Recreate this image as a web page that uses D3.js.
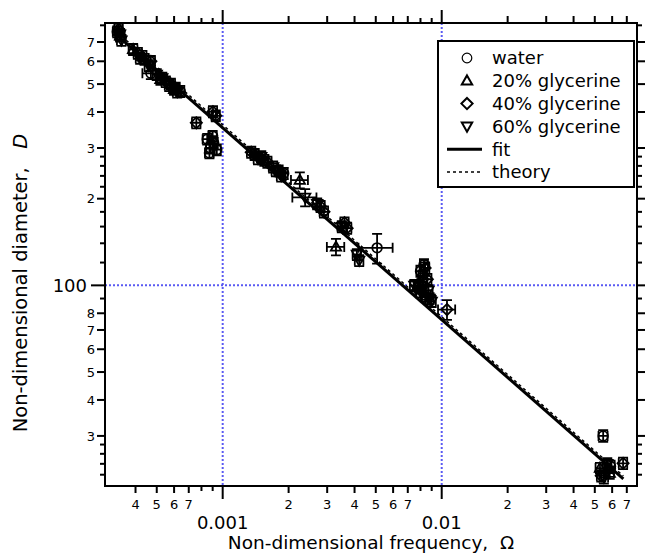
<!DOCTYPE html>
<html>
<head>
<meta charset="utf-8">
<script src="https://cdn.jsdelivr.net/npm/d3@7/dist/d3.min.js"></script>
<style>
  body { margin: 0; background: #fff; }
  svg { display: block; font-family: "DejaVu Sans", sans-serif; }
</style>
</head>
<body>
<div id="chart"></div>
<script>
// ---- data (Omega, D, half error bars) ----
let waterOmega = [0.00033, 0.00047, 0.00064, 0.00085, 0.00088, 0.00091, 0.00094, 0.00090, 0.00087,
  0.0019, 0.00507, 0.0080, 0.0083, 0.0546, 0.059];
let waterD = [760, 545, 472, 322, 300, 312, 296, 330, 288, 245, 135, 112, 118, 30.0, 23.5];
let waterErrOmega = [0.000015, 0.00004, 0.000028, 0.00004, 0.00004, 0.00004, 0.00004, 0.00004, 0.00004,
  0.00008, 0.0009, 0.00034, 0.00035, 0.0026, 0.0027];
let waterErrD = [33, 25, 21, 14, 13, 13, 13, 14, 12, 11, 16, 5, 5.2, 1.4, 1.1];

let g20Omega = [0.00034, 0.00039, 0.00043, 0.00044, 0.00052, 0.00058, 0.0006, 0.00155, 0.00225, 0.00329,
  0.0079, 0.0085, 0.0078, 0.0585, 0.0528];
let g20D = [735, 660, 625, 610, 520, 500, 480, 272, 232, 136, 98, 92, 100, 22.3, 23.2];
let g20ErrOmega = [0.000016, 0.000018, 0.000019, 0.00002, 0.000023, 0.000026, 0.000027, 0.00007, 0.0002, 0.0003,
  0.00035, 0.00038, 0.00035, 0.0027, 0.0024];
let g20ErrD = [32, 29, 27, 27, 23, 22, 21, 12, 15, 9, 4.3, 4.1, 4.4, 1, 1];

let g40Omega = [0.000335, 0.000758, 0.000903, 0.00093, 0.00041, 0.00047, 0.00055, 0.00061, 0.00135, 0.0014,
  0.0016, 0.0018, 0.0028, 0.0029, 0.0036, 0.0037, 0.0082, 0.0084, 0.0086, 0.01057, 0.0535, 0.0673];
let g40D = [775, 367, 401, 388, 640, 600, 510, 485, 290, 285, 268, 250, 188, 180, 165, 158, 108, 115, 105,
  82.4, 21.8, 24.1];
let g40ErrOmega = [0.000015, 0.000034, 0.00004, 0.000041, 0.000018, 0.000021, 0.000025, 0.000027, 0.00006,
  0.000063, 0.000072, 0.00008, 0.000125, 0.00013, 0.00016, 0.00017, 0.00037, 0.00038, 0.00038, 0.00095,
  0.0024, 0.003];
let g40ErrD = [34, 16, 18, 17, 28, 26, 22, 21, 13, 12.5, 12, 11, 8.3, 8, 7.3, 7, 4.8, 5.1, 4.6, 6.5, 1, 1.1];

let g60Omega = [0.000345, 0.00034, 0.00042, 0.00046, 0.0005, 0.00053, 0.00057, 0.00062, 0.00145, 0.0015,
  0.0017, 0.00175, 0.00185, 0.00238, 0.0027, 0.0035, 0.0041, 0.0042, 0.0075, 0.008, 0.0082, 0.0087, 0.0088,
  0.009, 0.057, 0.055];
let g60D = [710, 745, 615, 580, 540, 525, 495, 470, 275, 280, 258, 250, 240, 202, 192, 160, 128, 122, 100,
  95, 102, 96, 90, 88, 24, 21.5];
let g60ErrOmega = [0.000016, 0.000016, 0.000019, 0.00002, 0.000022, 0.000024, 0.000026, 0.000028, 0.000065,
  0.000067, 0.000076, 0.000078, 0.000083, 0.0003, 0.00012, 0.00016, 0.00018, 0.00019, 0.00034, 0.00036,
  0.00037, 0.00039, 0.0004, 0.0004, 0.0026, 0.0025];
let g60ErrD = [31, 33, 27, 26, 24, 23, 22, 21, 12, 12.4, 11.4, 11, 10.6, 14, 8.5, 7.1, 5.7, 5.4, 4.4, 4.2, 4.5,
  4.2, 4, 3.9, 1.1, 1];

// fit and theory: D = C * (Omega / 0.01)^(-2/3)
let fitRange = [0.00033, 0.0675];
let fitCoef = 76;
let theoryCoef = 77.8;
let powerExp = -2 / 3;

// tick values
let xMajorTicks = [0.001, 0.01];
let xLabelTicks = [0.0004, 0.0005, 0.0006, 0.0007, 0.002, 0.003, 0.004, 0.005, 0.006, 0.007,
  0.02, 0.03, 0.04, 0.05, 0.06, 0.07];
let xPlainTicks = [0.0008, 0.0009, 0.008, 0.009];
let yMajorTicks = [100];
let yLabelTicks = [30, 40, 50, 60, 70, 80, 200, 300, 400, 500, 600, 700];
let yPlainTicks = [22, 24, 26, 28, 90, 120, 140, 160, 180, 220, 240, 260, 280, 800];

let series = [
  { name: "water", sym: "circle", om: waterOmega, d: waterD, eo: waterErrOmega, ed: waterErrD },
  { name: "20% glycerine", sym: "up", om: g20Omega, d: g20D, eo: g20ErrOmega, ed: g20ErrD },
  { name: "40% glycerine", sym: "diamond", om: g40Omega, d: g40D, eo: g40ErrOmega, ed: g40ErrD },
  { name: "60% glycerine", sym: "down", om: g60Omega, d: g60D, eo: g60ErrOmega, ed: g60ErrD }
];

const width = 645, height = 556;
const pLeft = 105, pRight = 637, pTop = 23, pBottom = 486;

let svg = d3.select("#chart").append("svg")
  .attr("width", width)
  .attr("height", height);

let x = d3.scaleLog().domain([0.0002902, 0.07792]).range([pLeft, pRight]);
let y = d3.scaleLog().domain([20.1, 815]).range([pBottom, pTop]);

// symbol paths centred at 0,0
function symPath(sym) {
  if (sym === "circle") return "M4.8,0A4.8,4.8 0 1,1 -4.8,0A4.8,4.8 0 1,1 4.8,0Z";
  if (sym === "up") return "M0,-5.4L5.2,3.8L-5.2,3.8Z";
  if (sym === "down") return "M0,5.4L5.2,-3.8L-5.2,-3.8Z";
  return "M0,-5.6L5.6,0L0,5.6L-5.6,0Z";
}

// blue dotted grid at the decades
let grid = svg.append("g")
  .attr("stroke", "#5a5af2")
  .attr("stroke-width", 2)
  .attr("stroke-dasharray", "2,2");
grid.selectAll(".gx").data(xMajorTicks).enter().append("line")
  .attr("x1", d => x(d)).attr("x2", d => x(d))
  .attr("y1", pTop).attr("y2", pBottom);
grid.selectAll(".gy").data(yMajorTicks).enter().append("line")
  .attr("x1", pLeft).attr("x2", pRight)
  .attr("y1", d => y(d)).attr("y2", d => y(d));

// theory (dashed) and fit (solid)
let lineGen = coef => d3.line()
  .x(d => x(d))
  .y(d => y(coef * Math.pow(d / 0.01, powerExp)));

svg.append("path")
  .attr("d", lineGen(fitCoef)(fitRange))
  .attr("fill", "none")
  .attr("stroke", "#000")
  .attr("stroke-width", 3);

svg.append("path")
  .attr("d", lineGen(theoryCoef)(fitRange))
  .attr("fill", "none")
  .attr("stroke", "#000")
  .attr("stroke-width", 1.5)
  .attr("stroke-dasharray", "3,3");

// points with error bars (open symbols, bars drawn through them)
const cap = 5;
series.forEach(s => {
  let pts = s.om.map((o, i) => ({ o: o, d: s.d[i], eo: s.eo[i], ed: s.ed[i] }));
  let g = svg.append("g")
    .attr("stroke", "#000")
    .attr("stroke-width", 1.8)
    .attr("fill", "none");
  let pt = g.selectAll("g").data(pts).enter().append("g");

  pt.append("path").attr("d", p => {
    let x0 = x(p.o - p.eo), x1 = x(p.o + p.eo), yc = y(p.d);
    let y0 = y(p.d - p.ed), y1 = y(p.d + p.ed), xc = x(p.o);
    return `M${x0},${yc}H${x1}M${x0},${yc - cap}V${yc + cap}M${x1},${yc - cap}V${yc + cap}` +
      `M${xc},${y0}V${y1}M${xc - cap},${y0}H${xc + cap}M${xc - cap},${y1}H${xc + cap}`;
  });

  pt.append("path")
    .attr("d", symPath(s.sym))
    .attr("transform", p => `translate(${x(p.o)},${y(p.d)})`);
});

// frame
svg.append("rect")
  .attr("x", pLeft).attr("y", pTop)
  .attr("width", pRight - pLeft).attr("height", pBottom - pTop)
  .attr("fill", "none")
  .attr("stroke", "#000")
  .attr("stroke-width", 2);

// ticks on all four sides, pointing outward
let firstDigit = v => String(Math.round(v / Math.pow(10, Math.floor(Math.log10(v) + 1e-9))));
let ticks = svg.append("g").attr("stroke", "#000").attr("stroke-width", 2);

function xTicks(vals, len) {
  vals.forEach(v => {
    ticks.append("line").attr("x1", x(v)).attr("x2", x(v)).attr("y1", pBottom).attr("y2", pBottom + len);
    ticks.append("line").attr("x1", x(v)).attr("x2", x(v)).attr("y1", pTop).attr("y2", pTop - len);
  });
}
function yTicks(vals, len) {
  vals.forEach(v => {
    ticks.append("line").attr("y1", y(v)).attr("y2", y(v)).attr("x1", pLeft).attr("x2", pLeft - len);
    ticks.append("line").attr("y1", y(v)).attr("y2", y(v)).attr("x1", pRight).attr("x2", pRight + len);
  });
}
xTicks(xMajorTicks, 13);
xTicks(xLabelTicks, 7);
xTicks(xPlainTicks, 5);
yTicks(yMajorTicks, 14);
yTicks(yLabelTicks, 8);
yTicks(yPlainTicks, 5);

// tick labels
svg.selectAll(".xl").data(xLabelTicks).enter().append("text")
  .attr("x", d => x(d)).attr("y", 509)
  .attr("text-anchor", "middle")
  .attr("font-size", 13)
  .text(d => firstDigit(d));
svg.selectAll(".xm").data(xMajorTicks).enter().append("text")
  .attr("x", d => x(d)).attr("y", 529)
  .attr("text-anchor", "middle")
  .attr("font-size", 18)
  .text(d => d3.format("")(d));
svg.selectAll(".yl").data(yLabelTicks).enter().append("text")
  .attr("x", 95).attr("y", d => y(d))
  .attr("dy", "0.36em")
  .attr("text-anchor", "end")
  .attr("font-size", 13)
  .text(d => firstDigit(d));
svg.selectAll(".ym").data(yMajorTicks).enter().append("text")
  .attr("x", 87).attr("y", d => y(d))
  .attr("dy", "0.36em")
  .attr("text-anchor", "end")
  .attr("font-size", 18)
  .text(d => d);

// axis titles
svg.append("text")
  .attr("x", (pLeft + pRight) / 2).attr("y", 549)
  .attr("text-anchor", "middle")
  .attr("font-size", 18.5)
  .attr("xml:space", "preserve")
  .text("Non-dimensional frequency,  \u03A9");

let yt = svg.append("text")
  .attr("transform", "translate(27,283) rotate(-90)")
  .attr("text-anchor", "middle")
  .attr("font-size", 19.5)
  .attr("xml:space", "preserve");
yt.append("tspan").text("Non-dimensional diameter,   ");
yt.append("tspan").attr("font-style", "italic").text("D");

// legend
let lg = svg.append("g");
lg.append("rect")
  .attr("x", 438).attr("y", 41)
  .attr("width", 196).attr("height", 146)
  .attr("fill", "#fff")
  .attr("stroke", "#000")
  .attr("stroke-width", 2);

let legendRows = series.map(s => ({ name: s.name, sym: s.sym }))
  .concat([{ name: "fit", line: "solid" }, { name: "theory", line: "dash" }]);

legendRows.forEach((r, i) => {
  let yy = 58 + i * 22.8;
  if (r.sym) {
    lg.append("path")
      .attr("d", symPath(r.sym))
      .attr("transform", `translate(467,${yy})`)
      .attr("fill", "none")
      .attr("stroke", "#000")
      .attr("stroke-width", r.sym === "circle" ? 1.2 : 2);
  } else {
    lg.append("line")
      .attr("x1", 447).attr("x2", 482)
      .attr("y1", yy).attr("y2", yy)
      .attr("stroke", "#000")
      .attr("stroke-width", r.line === "solid" ? 3 : 1.5)
      .attr("stroke-dasharray", r.line === "solid" ? null : "3,3");
  }
  lg.append("text")
    .attr("x", 492).attr("y", yy)
    .attr("dy", "0.36em")
    .attr("font-size", 18)
    .text(r.name);
});
</script>
</body>
</html>
